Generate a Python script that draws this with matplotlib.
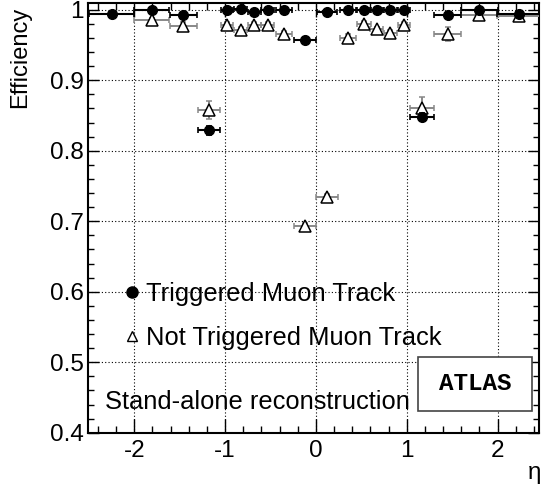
import matplotlib
matplotlib.use('Agg')
import matplotlib.pyplot as plt
from matplotlib.lines import Line2D
from matplotlib.patches import Rectangle
from matplotlib.ticker import MultipleLocator

plt.rcParams['font.family'] = ['Liberation Sans', 'DejaVu Sans']
plt.rcParams['axes.unicode_minus'] = False

# triggered muon tracks (filled circles)
trig_eta = [-2.25, -1.81, -1.46, -1.18, -0.98, -0.83, -0.68, -0.53, -0.35, -0.12,
            0.12, 0.35, 0.53, 0.67, 0.82, 0.97, 1.17, 1.45, 1.80, 2.24]
trig_etaerr = [0.25, 0.19, 0.15, 0.12, 0.07, 0.07, 0.07, 0.07, 0.09, 0.12,
               0.11, 0.09, 0.08, 0.07, 0.07, 0.07, 0.13, 0.15, 0.20, 0.25]
trig_eff = [0.994, 0.999, 0.993, 0.829, 0.999, 1.001, 0.997, 0.999, 1.000, 0.957,
            0.997, 0.999, 1.000, 0.999, 0.999, 0.999, 0.848, 0.993, 0.999, 0.994]
trig_err = [0.002, 0.002, 0.002, 0.006, 0.002, 0.002, 0.002, 0.002, 0.002, 0.004,
            0.002, 0.002, 0.002, 0.002, 0.002, 0.002, 0.006, 0.002, 0.002, 0.002]

# not triggered muon tracks (open triangles)
notr_eta = [-1.81, -1.46, -1.18, -0.98, -0.83, -0.68, -0.53, -0.35, -0.12,
            0.12, 0.35, 0.53, 0.67, 0.82, 0.97, 1.17, 1.45, 1.80, 2.24]
notr_etaerr = [0.19, 0.15, 0.12, 0.07, 0.07, 0.07, 0.07, 0.09, 0.12,
               0.12, 0.09, 0.08, 0.07, 0.07, 0.07, 0.13, 0.15, 0.20, 0.25]
notr_eff = [0.985, 0.977, 0.858, 0.978, 0.971, 0.978, 0.978, 0.965, 0.693,
            0.734, 0.960, 0.980, 0.972, 0.967, 0.978, 0.860, 0.965, 0.992, 0.991]
notr_err = [0.004, 0.006, 0.013, 0.004, 0.004, 0.004, 0.004, 0.005, 0.005,
            0.005, 0.005, 0.004, 0.004, 0.004, 0.004, 0.016, 0.010, 0.004, 0.004]

fig = plt.figure(figsize=(5.42, 4.91), dpi=100)
ax = fig.add_axes([88 / 542, 58.3 / 491, 450.5 / 542, 430 / 491])

ax.errorbar(notr_eta, notr_eff, xerr=notr_etaerr, yerr=notr_err, fmt='^',
            ms=8.5, mfc='white', mec='black', mew=1.1, ecolor='#888888',
            elinewidth=1.4, capsize=2.5, capthick=1.2, zorder=3)
ax.errorbar(trig_eta, trig_eff, xerr=trig_etaerr, yerr=trig_err, fmt='o',
            ms=7, mfc='black', mec='black', ecolor='black',
            elinewidth=1.5, capsize=2.5, capthick=1.2, zorder=4)

ax.set_xlim(-2.51, 2.45)
ax.set_ylim(0.4, 1.01)
ax.xaxis.set_major_locator(MultipleLocator(1))
ax.xaxis.set_minor_locator(MultipleLocator(0.2))
ax.yaxis.set_major_locator(MultipleLocator(0.1))
ax.yaxis.set_minor_locator(MultipleLocator(0.02))
ax.set_yticks([0.4, 0.5, 0.6, 0.7, 0.8, 0.9, 1.0])
ax.set_yticklabels(['0.4', '0.5', '0.6', '0.7', '0.8', '0.9', '1'])

ax.tick_params(which='both', direction='in', top=True, right=True,
               labelsize=17.5, width=1)
ax.tick_params(axis='x', which='major', length=10, pad=5)
ax.tick_params(axis='x', which='minor', length=5)
ax.tick_params(axis='y', which='major', length=8, pad=3)
ax.tick_params(axis='y', which='minor', length=4)
for s in ax.spines.values():
    s.set_linewidth(1.5)

ax.grid(True, which='major', color='black', linestyle=(0, (1, 2)), linewidth=0.8)
ax.set_axisbelow(True)

handles = [Line2D([], [], marker='o', ms=8, color='black', ls='none'),
           Line2D([], [], marker='^', ms=7, mfc='white', mec='black', mew=1, ls='none')]
ax.legend(handles, ['Triggered Muon Track', 'Not Triggered Muon Track'],
          loc='upper left', bbox_to_anchor=(0.074, 0.350), frameon=False,
          fontsize=18.4, borderpad=0, borderaxespad=0, handlelength=0.8,
          handletextpad=0.15, labelspacing=0.76)

ax.text(0.038, 0.072, 'Stand-alone reconstruction', transform=ax.transAxes,
        fontsize=18.4, ha='left', va='center')

ax.add_patch(Rectangle((0.7325, 0.0505), 0.2524, 0.1263, transform=ax.transAxes,
                       facecolor='white', edgecolor='#444444', linewidth=1.2, zorder=5))
ax.text(0.8586, 0.1137, 'ATLAS', transform=ax.transAxes, fontsize=17.5,
        family='Liberation Mono', fontweight='bold', ha='center', va='center', zorder=6)

fig.text(0.037, 0.986, 'Efficiency', rotation=90, ha='center', va='top', fontsize=17)
fig.text(0.998, 0.037, 'η', ha='right', va='center', fontsize=17.5)

fig.savefig('out.png', dpi=100)
